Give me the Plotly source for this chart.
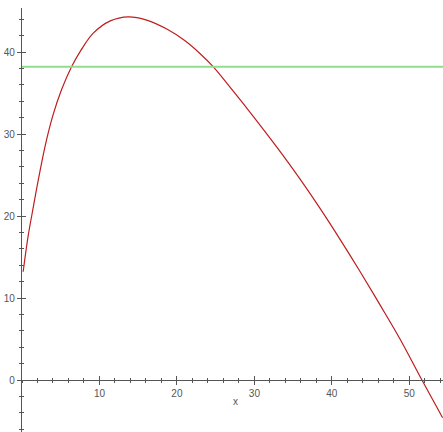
import plotly.graph_objects as go

# Data
curve_x = [0.15, 0.8, 1.5, 2.0, 3.0, 4.0, 5.1, 6.4, 7.6, 9.2, 11.4, 13.7, 16.1, 18.7, 21.0,
           23.0, 24.7, 27.3, 29.9, 32.9, 35.9, 38.5, 41.1, 43.6, 46.2, 48.8, 51.4, 54.3]
curve_y = [13.2, 17.6, 21.3, 23.9, 28.6, 32.3, 35.4, 38.2, 40.2, 42.3, 43.8, 44.3, 43.9, 42.8, 41.4,
           39.8, 38.2, 35.2, 32.1, 28.4, 24.5, 20.9, 17.1, 13.3, 9.2, 5.0, 0.4, -4.6]
level_x = [0, 54.35]
level_y = [38.2, 38.2]

x_major = [10, 20, 30, 40, 50]
y_major = [0, 10, 20, 30, 40]

W, H = 443, 432
XR = [0, 54.35]
YR = [-6.34, 45.4]
x_dom = [22 / W, 1]
y_dom = [0, 0.982]
x_pos = (H - 380) / H

axcol = "#555555"
font = dict(family="Liberation Sans, Arial", size=10, color="#555555")

fig = go.Figure()
fig.add_trace(go.Scatter(x=curve_x, y=curve_y, mode="lines",
                         line=dict(color="rgb(190,30,30)", width=1.2, shape="spline", smoothing=1.0),
                         hoverinfo="skip", showlegend=False))
fig.add_trace(go.Scatter(x=level_x, y=level_y, mode="lines", line=dict(color="#90dd90", width=2),
                         xaxis="x2", yaxis="y2", hoverinfo="skip", showlegend=False))

common_x = dict(range=XR, domain=x_dom, showgrid=False, zeroline=False, anchor="free", position=x_pos,
                tickcolor=axcol, tickwidth=1, fixedrange=True, automargin=False)
common_y = dict(range=YR, domain=y_dom, showgrid=False, zeroline=False, tickcolor=axcol, tickwidth=1,
                fixedrange=True, automargin=False)

fig.update_layout(
    width=W, height=H, margin=dict(l=0, r=0, t=0, b=0, pad=0), autosize=False,
    paper_bgcolor="white", plot_bgcolor="rgba(0,0,0,0)",
    font=font,
    xaxis=dict(**common_x, showline=True, linecolor=axcol, linewidth=1.2,
               tickmode="array", tickvals=x_major, ticktext=[str(v) for v in x_major],
               ticks="outside", ticklen=4, tickfont=font,
               minor=dict(tickmode="linear", tick0=0, dtick=2, ticks="outside", ticklen=2, tickcolor=axcol)),
    xaxis2=dict(**common_x, overlaying="x", showline=False, showticklabels=False,
                tickmode="array", tickvals=x_major, ticks="inside", ticklen=4,
                minor=dict(tickmode="linear", tick0=0, dtick=2, ticks="inside", ticklen=2, tickcolor=axcol)),
    yaxis=dict(**common_y, anchor="x", showline=True, linecolor=axcol, linewidth=1.2,
               tickmode="array", tickvals=y_major, ticktext=[str(v) for v in y_major],
               ticks="outside", ticklen=4, tickfont=font,
               minor=dict(tickmode="linear", tick0=0, dtick=2, ticks="outside", ticklen=2, tickcolor=axcol)),
    yaxis2=dict(**common_y, anchor="x2", overlaying="y", showline=False, showticklabels=False,
                tickmode="array", tickvals=y_major, ticks="inside", ticklen=4,
                minor=dict(tickmode="linear", tick0=0, dtick=2, ticks="inside", ticklen=2, tickcolor=axcol)),
    annotations=[dict(text="x", xref="paper", yref="paper", x=236 / W, y=(H - 401.5) / H,
                      showarrow=False, font=font, xanchor="center", yanchor="middle")],
)

fig.write_html("out.html", config={"displayModeBar": False, "staticPlot": True},
               post_script="document.body.style.margin='0';")
